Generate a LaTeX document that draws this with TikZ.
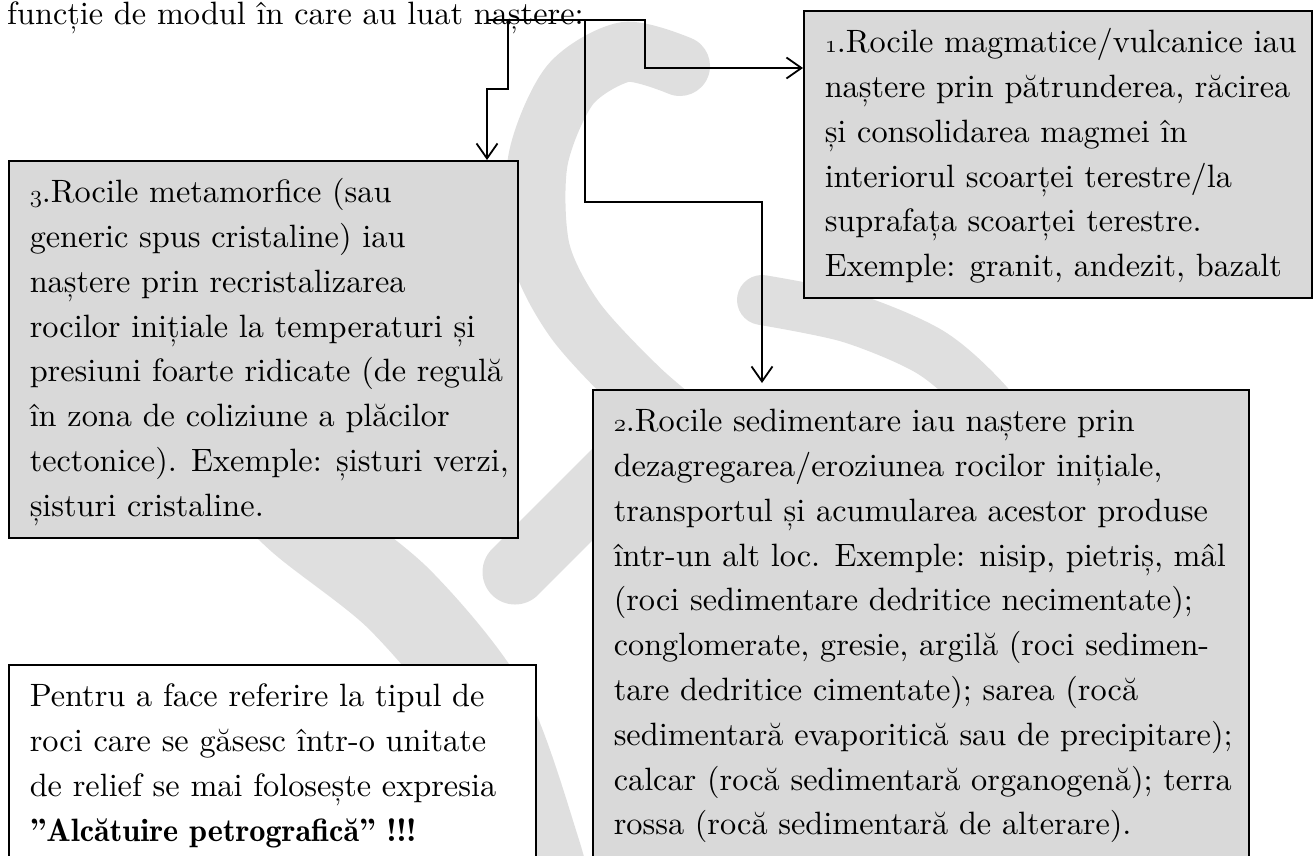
\documentclass[tikz,border=0pt]{standalone}
\usepackage{fontspec}
\setmainfont{lmroman10}[Extension=.otf, UprightFont=*-regular, BoldFont=lmromandemi10-regular, ItalicFont=*-italic]
\usepackage{tikz}
\usetikzlibrary{arrows.meta}

\definecolor{boxgray}{RGB}{217,217,217}
\definecolor{markgray}{RGB}{223,223,223}

% old style figures for the numbering
\newcommand{\osf}[1]{{\usefont{OML}{cmm}{m}{it}#1}}
% fixed frame, text starts at the top left
\newcommand{\boxtext}[3]{\parbox[t][#1][t]{#2}{\leftskip=21pt\rule{0pt}{42pt}#3}}

\begin{document}
\begin{tikzpicture}[x=1pt,y=-1pt,
  box/.style={draw, line width=1.5pt, fill=boxgray, anchor=north west,
    inner sep=0pt, font=\fontsize{32.3}{44.8}\selectfont},
  link/.style={line width=1.8pt, -{Straight Barb[length=15pt,width=21pt]}},
  wmark/.style={draw=markgray, line cap=round}]
\clip (0,0) rectangle (1313,855);

% watermark
\draw[wmark, line width=60pt] plot[smooth] coordinates {(680,66) (625,52) (570,85) (538,160) (540,250) (575,320) (640,390) (700,440)};
\draw[wmark, line width=65pt] (515,572) -- (650,437);
\draw[wmark, line width=85pt] plot[smooth] coordinates {(230,450) (300,520) (400,600) (487,709) (538,851) (555,920)};
\draw[wmark, line width=50pt] plot[smooth] coordinates {(762,300) (850,318) (930,352) (985,400) (1040,470)};

\node[anchor=base west, inner sep=0pt, font=\fontsize{32.3}{44.8}\selectfont] (title) at (7,24) {funcție de modul în care au luat naștere:};

\node[box] (magm) at (803,10) {\boxtext{287pt}{508pt}{%
\osf{1}.Rocile magmatice/vulcanice iau\\
naștere prin pătrunderea, răcirea\\
și consolidarea magmei în\\
interiorul scoarței terestre/la\\
suprafața scoarței terestre.\\
Exemple: granit, andezit, bazalt}};

\node[box] (sedim) at (592,389) {\boxtext{520pt}{656pt}{%
\osf{2}.Rocile sedimentare iau naștere prin\\
dezagregarea/eroziunea rocilor inițiale,\\
transportul și acumularea acestor produse\\
într-un alt loc. Exemple: nisip, pietriș, mâl\\
(roci sedimentare dedritice necimentate);\\
conglomerate, gresie, argilă (roci sedimen-\\
tare dedritice cimentate); sarea (rocă\\
sedimentară evaporitică sau de precipitare);\\
calcar (rocă sedimentară organogenă); terra\\
rossa (rocă sedimentară de alterare).}};

\node[box] (meta) at (8,160) {\boxtext{377pt}{509pt}{%
\osf{3}.Rocile metamorfice (sau\\
generic spus cristaline) iau\\
naștere prin recristalizarea\\
rocilor inițiale la temperaturi și\\
presiuni foarte ridicate (de regulă\\
în zona de coliziune a plăcilor\\
tectonice). Exemple: șisturi verzi,\\
șisturi cristaline.}};

\node[box, fill=white] (note) at (8,664) {\boxtext{240pt}{527pt}{%
Pentru a face referire la tipul de\\
roci care se găsesc într-o unitate\\
de relief se mai folosește expresia\\
\textbf{”Alcătuire petrografică” !!!}}};

\coordinate (root) at (487,20);
\coordinate (j1) at (508,20);
\coordinate (j2) at (585,20);

\draw[link] (root) -| (645,68) -- (magm.west |- 0,68);
\draw[link] (j1) |- (487,89) -- (meta.north -| 487,0);
\draw[link, shorten >=6pt] (j2) |- (762,202) -- (sedim.north -| 762,0);
\end{tikzpicture}
\end{document}
